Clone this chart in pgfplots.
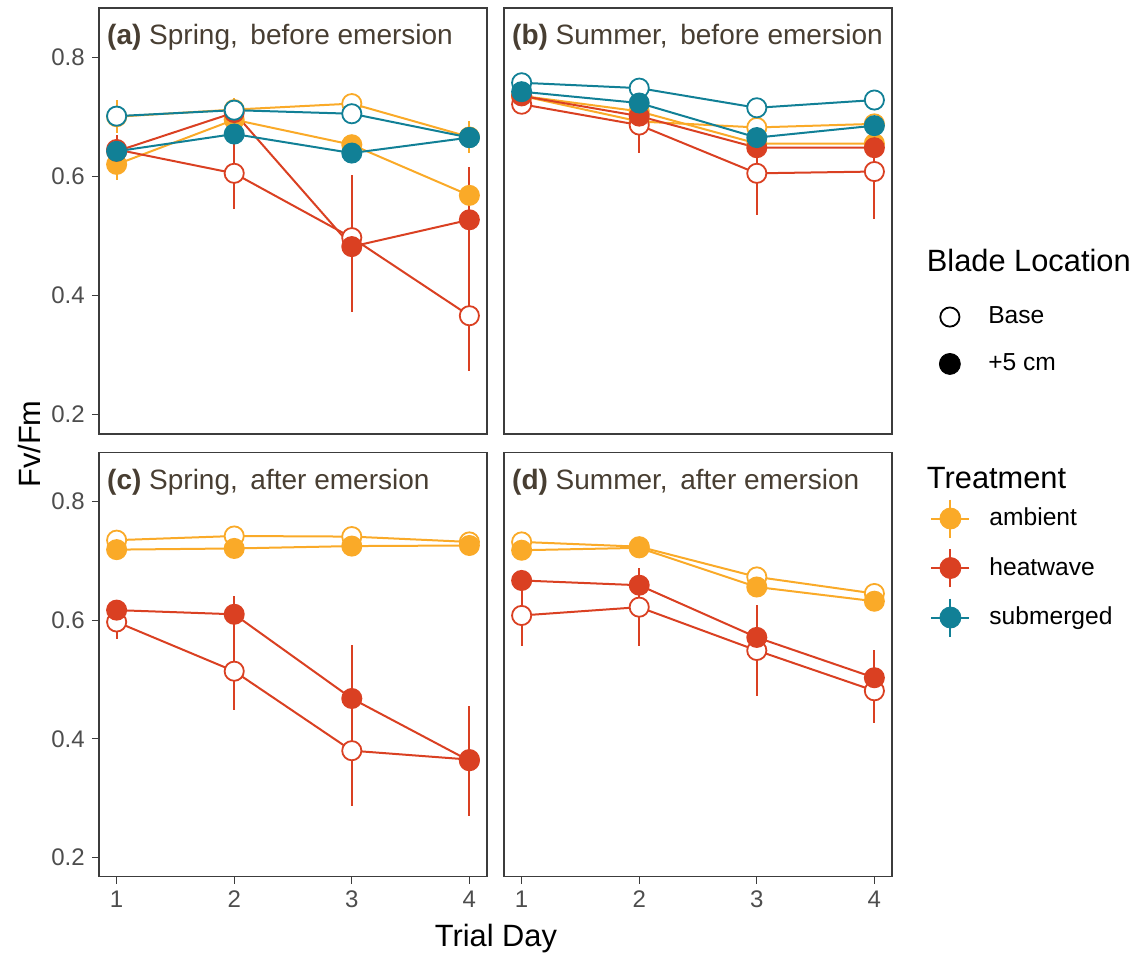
\documentclass[border=0pt]{standalone}
\usepackage{fontspec}
\setmainfont{Liberation Sans}
\usepackage{pgfplots}
\usepackage{pgfplotstable}
\pgfplotsset{compat=1.18}

\definecolor{amb}{RGB}{250,170,40}
\definecolor{heat}{RGB}{218,64,34}
\definecolor{subm}{RGB}{17,128,150}
\definecolor{framecol}{RGB}{60,60,60}
\definecolor{striptext}{RGB}{72,62,50}
\definecolor{ticktext}{RGB}{77,77,77}

% mean Fv/Fm and error per treatment (a = ambient, h = heatwave, s = submerged)
% and blade location (b = base, f = +5 cm); columns ending in e are errors
\pgfplotstableread{
day ab abe af afe hb hbe hf hfe sb sbe sf sfe
1 0.700 0.028 0.620 0.026 0.645 0.010 0.642 0.028 0.701 0.010 0.642 0.010
2 0.712 0.020 0.695 0.010 0.605 0.060 0.707 0.020 0.711 0.010 0.671 0.010
3 0.722 0.010 0.653 0.010 0.497 0.105 0.482 0.110 0.705 0.010 0.639 0.010
4 0.666 0.027 0.568 0.010 0.366 0.093 0.527 0.088 0.665 0.010 0.665 0.010
}\springbefore

\pgfplotstableread{
day ab abe af afe hb hbe hf hfe sb sbe sf sfe
1 0.735 0.010 0.735 0.010 0.721 0.010 0.735 0.010 0.757 0.010 0.742 0.010
2 0.692 0.010 0.709 0.010 0.686 0.047 0.701 0.010 0.748 0.010 0.723 0.010
3 0.682 0.010 0.655 0.010 0.605 0.070 0.648 0.010 0.715 0.010 0.665 0.010
4 0.688 0.010 0.655 0.010 0.608 0.079 0.648 0.010 0.728 0.010 0.685 0.010
}\summerbefore

\pgfplotstableread{
day ab abe af afe hb hbe hf hfe
1 0.735 0.008 0.719 0.008 0.597 0.028 0.617 0.010
2 0.742 0.008 0.721 0.008 0.514 0.066 0.610 0.030
3 0.741 0.008 0.725 0.008 0.380 0.093 0.468 0.090
4 0.732 0.008 0.726 0.008 0.365 0.090 0.363 0.093
}\springafter

\pgfplotstableread{
day ab abe af afe hb hbe hf hfe
1 0.732 0.008 0.718 0.008 0.608 0.052 0.667 0.010
2 0.724 0.008 0.722 0.008 0.622 0.065 0.659 0.029
3 0.673 0.008 0.656 0.008 0.549 0.077 0.571 0.055
4 0.645 0.008 0.632 0.008 0.481 0.055 0.503 0.047
}\summerafter

% one series in three layers: connecting line, error bar, point
\newcommand{\trline}[3]{\addplot[forget plot, color=#3, line width=1pt] table[x=day,y=#2]{#1};}
\newcommand{\trerr}[3]{\addplot[forget plot, color=#3, only marks, mark=none,
  error bars/.cd, y dir=both, y explicit, error mark=none,
  error bar style={line width=1pt, color=#3}] table[x=day,y=#2,y error=#2e]{#1};}
\newcommand{\trmark}[4]{\addplot[forget plot, only marks, mark=*, mark size=4.8pt,
  mark options={draw=#3, fill=#4, line width=0.9pt}] table[x=day,y=#2]{#1};}

% #1 table, #2 = 1 when the submerged treatment is present
\newcommand{\drawpanel}[2]{%
  \trline{#1}{ab}{amb}\trline{#1}{af}{amb}\trline{#1}{hb}{heat}\trline{#1}{hf}{heat}%
  \ifnum#2=1 \trline{#1}{sb}{subm}\trline{#1}{sf}{subm}\fi
  \trerr{#1}{ab}{amb}\trerr{#1}{af}{amb}\trerr{#1}{hb}{heat}\trerr{#1}{hf}{heat}%
  \ifnum#2=1 \trerr{#1}{sb}{subm}\trerr{#1}{sf}{subm}\fi
  \trmark{#1}{ab}{amb}{white}\trmark{#1}{af}{amb}{amb}%
  \trmark{#1}{hb}{heat}{white}\trmark{#1}{hf}{heat}{heat}%
  \ifnum#2=1 \trmark{#1}{sb}{subm}{white}\trmark{#1}{sf}{subm}{subm}\fi
}

\newcommand{\striplabel}[2]{\node[anchor=base west, inner sep=0pt, text=striptext,
  font=\fontsize{14}{16}\selectfont] at (axis description cs:0,1)
  [xshift=3.9pt, yshift=-18.2pt] {\textbf{#1} #2};}

% key image for a treatment: line, error bar and point
\newcommand{\treatkey}[1]{\addlegendimage{#1, fill=#1, legend image code/.code={
      \draw[line width=1pt] (0pt,0pt) -- (19pt,0pt);
      \draw[line width=1pt] (9.5pt,-9.5pt) -- (9.5pt,9.5pt);
      \fill (9.5pt,0pt) circle (5.25pt);}}}

\pgfplotsset{
  facet/.style={
    scale only axis, width=194pt,
    xmin=0.85, xmax=4.15, ymin=0.1675, ymax=0.8825,
    axis line style={draw=framecol, line width=0.55pt},
    tick style={draw=framecol, line width=0.55pt},
    tick align=outside, major tick length=3.6pt,
    xtick pos=bottom, ytick pos=left,
    xtick={1,2,3,4}, ytick={0.2,0.4,0.6,0.8},
    /pgf/number format/assume math mode=true,
    xticklabel style={font=\fontsize{12}{14}\selectfont, text=ticktext,
      /pgf/number format/.cd, fixed, precision=0},
    yticklabel style={font=\fontsize{12}{14}\selectfont, text=ticktext,
      /pgf/number format/.cd, fixed, fixed zerofill, precision=1},
    clip=false,
  },
  noxticks/.style={xtick=\empty},
  noyticks/.style={ytick=\empty},
}

\begin{document}
\begin{tikzpicture}
\path[use as bounding box] (0pt,0pt) rectangle (569pt,478pt);

% (a) spring, before emersion
\begin{axis}[facet, noxticks, height=213pt, at={(49.5pt,261pt)}, anchor=south west]
  \drawpanel{\springbefore}{1}
  \striplabel{(a)}{Spring,\hspace{0.45em}before emersion}
\end{axis}

% (b) summer, before emersion, with the blade location key
\begin{axis}[facet, noxticks, noyticks, height=213pt, at={(252pt,261pt)}, anchor=south west,
  legend style={at={(1.120,0.2195)}, anchor=west, draw=none, fill=none, inner sep=0pt,
    font=\fontsize{12.3}{14}\selectfont, row sep=9.5pt,
    /tikz/every odd column/.append style={column sep=11.75pt}},
  legend cell align=left]
  \drawpanel{\summerbefore}{1}
  \striplabel{(b)}{Summer,\hspace{0.45em}before emersion}
  \addlegendimage{legend image code/.code={\draw[black, fill=white, line width=0.9pt] (9.5pt,0pt) circle (4.8pt);}}
  \addlegendimage{legend image code/.code={\fill[black] (9.5pt,0pt) circle (5.25pt);}}
  \legend{Base, +5 cm}
  \node[anchor=base west, inner sep=0pt, font=\fontsize{15.4}{18}\selectfont]
    at (axis description cs:1.089,0.3826) {Blade Location};
\end{axis}

% (c) spring, after emersion
\begin{axis}[facet, height=212pt, at={(49.5pt,39.65pt)}, anchor=south west]
  \drawpanel{\springafter}{0}
  \striplabel{(c)}{Spring,\hspace{0.45em}after emersion}
\end{axis}

% (d) summer, after emersion, with the treatment key
\begin{axis}[facet, noyticks, height=212pt, at={(252pt,39.65pt)}, anchor=south west,
  legend style={at={(1.098,0.728)}, anchor=west, draw=none, fill=none, inner sep=0pt,
    font=\fontsize{12.3}{14}\selectfont, row sep=4.75pt,
    /tikz/every odd column/.append style={column sep=7.5pt}},
  legend cell align=left]
  \drawpanel{\summerafter}{0}
  \striplabel{(d)}{Summer,\hspace{0.45em}after emersion}
  \treatkey{amb}
  \treatkey{heat}
  \treatkey{subm}
  \legend{ambient, heatwave, submerged}
  \node[anchor=base west, inner sep=0pt, font=\fontsize{15.4}{18}\selectfont]
    at (axis description cs:1.089,0.9167) {Treatment};
\end{axis}

% shared axis titles
\node[rotate=90, font=\fontsize{15.4}{18}\selectfont] at (14.5pt,256pt) {Fv/Fm};
\node[anchor=base, inner sep=0pt, font=\fontsize{15.4}{18}\selectfont] at (248pt,4.5pt) {Trial Day};
\end{tikzpicture}
\end{document}
